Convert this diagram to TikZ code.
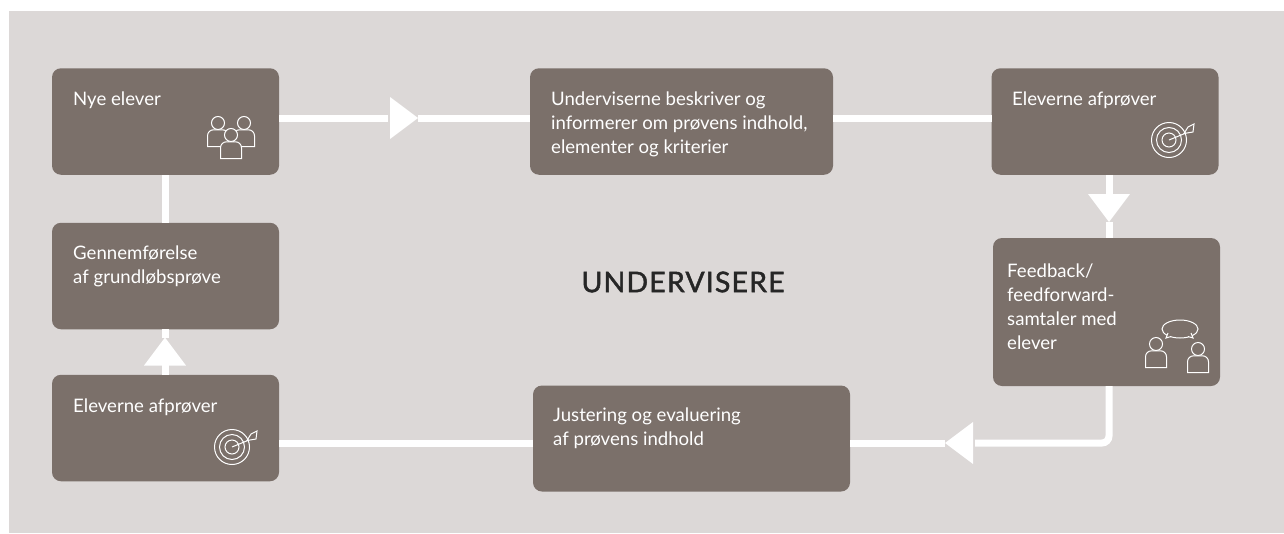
\documentclass[tikz,border=0pt]{standalone}
\usepackage{fontspec}
\setmainfont{Lato}
\newfontfamily\titlefont[FakeBold=1.5,LetterSpace=4]{Lato}
\usetikzlibrary{shapes.geometric}
\definecolor{panelgrey}{HTML}{DCD8D7}
\definecolor{boxbrown}{HTML}{7B706A}
\tikzset{
	box/.style={rectangle, fill=boxbrown, rounded corners=9pt, inner sep=0pt, outer sep=0pt},
	boxtext/.style={anchor=north west, inner sep=0pt, align=left, text=white, font=\fontsize{18.6}{24}\selectfont},
	flowline/.style={line width=7pt, color=white},
	flowtip/.style={isosceles triangle, isosceles triangle stretches, fill=white, inner sep=0pt, outer sep=0pt, minimum width=42pt, minimum height=28pt},
	icon/.style={line width=1pt, draw=white},
	person/.pic={
		\draw[icon, fill=boxbrown] (-10.5,23.5) [rounded corners=6pt] -- (-10.5,6.8) -- (10.5,6.8) [sharp corners] -- (10.5,23.5) -- cycle;
		\draw[icon, fill=boxbrown] (0,0) circle (6.5);
	},
	target/.pic={
		\draw[icon] (0,0) circle (17.5);
		\draw[icon] (0,0) circle (12.5);
		\draw[icon] (0,0) circle (7);
		\draw[icon] (0,0) -- (17,-7);
		\draw[icon] (15,-6.5) -- (19,-13) -- (25,-16) -- (24,-8) -- cycle;
	},
}
\begin{document}
\begin{tikzpicture}[x=1pt, y=-1pt]

	\useasboundingbox (0,0) rectangle (1284,533);
	\fill[panelgrey] (9,11) rectangle (1284,533);

	\node[box, minimum width=227pt, minimum height=106.5pt](nye) at (165.5,121.5){};
	\node[box, minimum width=227pt, minimum height=106.5pt](gennem) at (165.5,276){};
	\node[box, minimum width=227pt, minimum height=106.5pt](afproeveA) at (165.5,428){};
	\node[box, minimum width=303pt, minimum height=106.5pt](under) at (681.5,121.5){};
	\node[box, minimum width=227pt, minimum height=106.5pt](afproeveB) at (1105,121.5){};
	\node[box, minimum width=227pt, minimum height=148pt](feedback) at (1106.5,312){};
	\node[box, minimum width=317pt, minimum height=106pt](justering) at (691.5,438.5){};

	\node[boxtext](nyeText) at (73,92){Nye elever};
	\node[boxtext](gennemText) at (73,245.5){Gennemførelse\\af grundløbsprøve};
	\node[boxtext](afproeveAText) at (73,399){Eleverne afprøver};
	\node[boxtext](underText) at (551,92){Underviserne beskriver og\\informerer om prøvens indhold,\\elementer og kriterier};
	\node[boxtext](afproeveBText) at (1012,92){Eleverne afprøver};
	\node[boxtext](feedbackText) at (1007,264){Feedback/\\feedforward-\\samtaler med\\elever};
	\node[boxtext](justeringText) at (553,408){Justering og evaluering\\af prøvens indhold};
	\node[font=\titlefont\fontsize{28.5}{32}\selectfont, text=black!85, inner sep=0pt](title) at (683,282){UNDERVISERE};

	\node[flowtip](tipA) at (400.5,118){};
	\node[flowtip, shape border rotate=-90](tipB) at (1109,204.5){};
	\node[flowtip, shape border rotate=180](tipC) at (962.5,443){};
	\node[flowtip, shape border rotate=90](tipD) at (165,355){};

	\draw[flowline] (nye.east |- tipA) -- ([xshift=-2pt]tipA.lower side);
	\draw[flowline] (tipA.apex) -- (under.west |- tipA);
	\draw[flowline] (under.east |- tipA) -- (afproeveB.west |- tipA);
	\draw[flowline] (afproeveB.south -| tipB) -- ([yshift=-2pt]tipB.lower side);
	\draw[flowline] (tipB.apex) -- (feedback.north -| tipB);
	\draw[flowline, rounded corners=7pt] (feedback.south -| tipB) -- (tipB |- tipC) -- ([xshift=2pt]tipC.lower side);
	\draw[flowline] (tipC.apex) -- (justering.east |- tipC);
	\draw[flowline] (justering.west |- tipC) -- (afproeveA.east |- tipC);
	\draw[flowline] (afproeveA.north -| tipD) -- ([yshift=2pt]tipD.lower side);
	\draw[flowline] (tipD.apex) -- (gennem.south -| tipD);
	\draw[flowline] (gennem.north -| tipD) -- (nye.south -| tipD);

	\pic at (218,123) {person};
	\pic at (244,123) {person};
	\pic at (231,135) {person};
	\pic at (1156,344) {person};
	\pic at (1198,349) {person};
	\pic at (1169,140) {target};
	\pic at (232,447) {target};

	\draw[icon, fill=boxbrown] (1180,329) ellipse (18 and 9);
	\draw[icon, fill=boxbrown] (1171,336.5) -- (1166,338) -- (1168,333);
	\draw[icon, fill=boxbrown] (1188,336.5) -- (1193,338) -- (1191,333);

\end{tikzpicture}
\end{document}
